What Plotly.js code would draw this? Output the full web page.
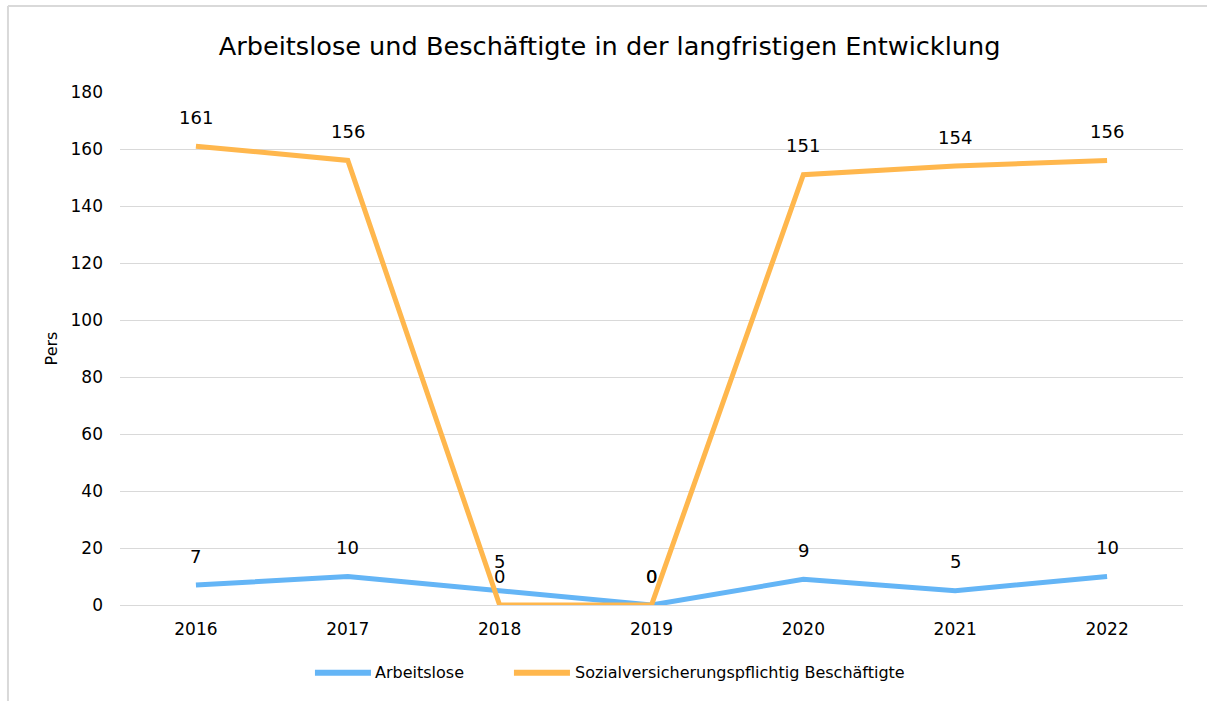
<!DOCTYPE html>
<html>
<head>
<meta charset="utf-8">
<script src="https://cdn.plot.ly/plotly-3.0.1.min.js"></script>
<style>html,body{margin:0;padding:0;background:#fff;}#chart{width:1207px;height:701px;}</style>
</head>
<body>
<div id="chart"></div>
<script>
const years = ["2016", "2017", "2018", "2019", "2020", "2021", "2022"];
const arbeitslose = [7, 10, 5, 0, 9, 5, 10];
const beschaeftigte = [161, 156, 0, 0, 151, 154, 156];
const seriesNames = ["Arbeitslose", "Sozialversicherungspflichtig Beschäftigte"];
const colors = ["#64b5f6", "#ffb74d"];
const FONT = "DejaVu Sans, Verdana, sans-serif";

const traces = [
  {x: years, y: arbeitslose, name: seriesNames[0], type: "scatter", mode: "lines",
   line: {color: colors[0], width: 5}},
  {x: years, y: beschaeftigte, name: seriesNames[1], type: "scatter", mode: "lines",
   line: {color: colors[1], width: 5}}
];

const annotations = [];
[arbeitslose, beschaeftigte].forEach(series => {
  series.forEach((v, i) => {
    annotations.push({x: i, y: v, xref: "x", yref: "y", text: String(v),
      showarrow: false, yshift: 29, yanchor: "middle", xanchor: "center",
      font: {family: FONT, size: 18, color: "#000"}});
  });
});

// custom legend (positions in paper coords)
const legendY = -0.132;
const legendItems = [
  {x0: 0.1834, x1: 0.2361, tx: 0.2380},
  {x0: 0.3706, x1: 0.4233, tx: 0.4262}
];
const shapes = [];
legendItems.forEach((it, k) => {
  shapes.push({type: "line", xref: "paper", yref: "paper", x0: it.x0, x1: it.x1,
    y0: legendY, y1: legendY, line: {color: colors[k], width: 6}});
  annotations.push({xref: "paper", yref: "paper", x: it.tx, y: legendY, text: seriesNames[k],
    showarrow: false, xanchor: "left", yanchor: "middle",
    font: {family: FONT, size: 16, color: "#000"}});
});
// frame lines (top and left)
shapes.push({type: "line", xref: "paper", yref: "paper", x0: -0.1054, x1: 1.03,
  y0: 1.1676, y1: 1.1676, line: {color: "#d9d9d9", width: 2}});
shapes.push({type: "line", xref: "paper", yref: "paper", x0: -0.1054, x1: -0.1054,
  y0: 1.1676, y1: -0.2, line: {color: "#d9d9d9", width: 2}});

const layout = {
  width: 1207, height: 701,
  margin: {l: 120, r: 24, t: 92, b: 96},
  paper_bgcolor: "#fff", plot_bgcolor: "#fff",
  font: {family: FONT, color: "#000"},
  title: {text: "Arbeitslose und Beschäftigte in der langfristigen Entwicklung",
    font: {size: 25.6, color: "#000"}, x: 0.505, xanchor: "center", y: 0.935, yanchor: "middle"},
  xaxis: {type: "category", range: [-0.5, 6.5], showgrid: false, showline: false,
    zeroline: false, ticks: "", tickfont: {size: 17}, ticklabelstandoff: 12, fixedrange: true},
  yaxis: {range: [0, 180], dtick: 20, showgrid: true, gridcolor: "#d9d9d9", gridwidth: 1,
    zeroline: true, zerolinecolor: "#d9d9d9", zerolinewidth: 1, showline: false,
    ticks: "", tickfont: {size: 17}, ticklabelstandoff: 16,
    title: {text: "Pers", font: {size: 16}, standoff: 8}},
  showlegend: false,
  annotations: annotations,
  shapes: shapes
};

Plotly.newPlot("chart", traces, layout, {displayModeBar: false, staticPlot: true});
</script>
</body>
</html>
